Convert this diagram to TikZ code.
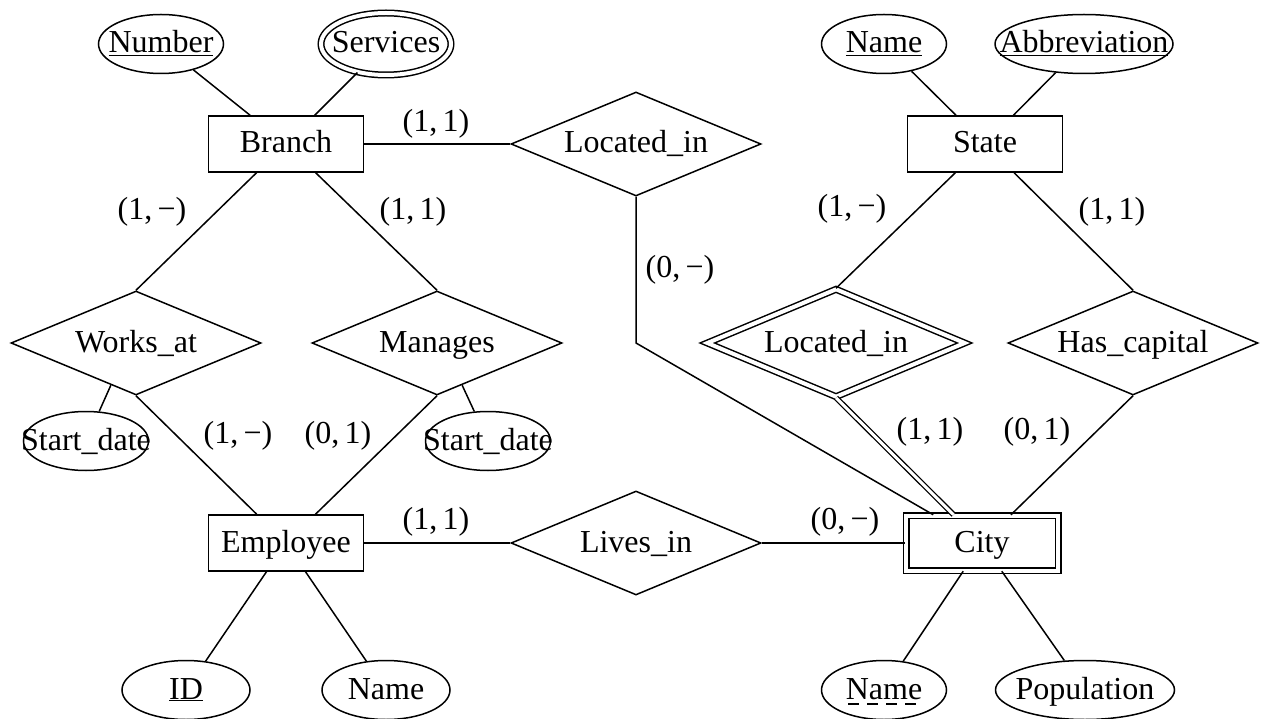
\documentclass[tikz,border=0pt]{standalone}
\usepackage{fontspec}
\setmainfont{Liberation Serif}
\usetikzlibrary{shapes.geometric,calc}
\tikzset{
  base/.style={line width=1.5pt},
  ent/.style={base, draw, rectangle, minimum width=155pt, minimum height=56pt, inner sep=0pt},
  went/.style={base, draw, rectangle, double, double distance=4pt, minimum width=152pt, minimum height=55pt, inner sep=0pt},
  rel/.style={base, draw, diamond, minimum width=250pt, minimum height=104pt, inner sep=0pt},
  wrel/.style={base, draw, diamond, double, double distance=4pt, minimum width=258pt, minimum height=108pt, inner sep=0pt},
  attr/.style={base, draw, ellipse, minimum width=125pt, minimum height=59pt, inner sep=0pt},
  card/.style={inner sep=0pt},
  conn/.style={base},
}
\newcommand{\zt}[1]{\makebox[0pt][c]{\rule[-9pt]{0pt}{36pt}#1}}
\begin{document}
\begin{tikzpicture}[x=1pt,y=-1pt,font=\fontsize{32}{38}\selectfont]
\useasboundingbox (0,0) rectangle (1266,719);
% entities
\node[ent] (branch) at (286,144) {\zt{Branch}};
\node[ent] (state) at (985,144) {\zt{State}};
\node[ent] (emp) at (286,543) {\zt{Employee}};
\node[went] (city) at (982,543) {\zt{City}};
% relationships
\node[rel] (loc) at (636,144) {\zt{Located\_in}};
\node[rel] (works) at (136,343) {\zt{Works\_at}};
\node[rel] (man) at (437,343) {\zt{Manages}};
\node[wrel] (locd) at (836,343) {\zt{Located\_in}};
\node[rel] (cap) at (1133,343) {\zt{Has\_capital}};
\node[rel] (lives) at (636,543) {\zt{Lives\_in}};
% attributes
\node[attr] (num) at (161,44) {\zt{\underline{Number}}};
\node[attr, double, double distance=4pt, minimum width=130pt, minimum height=62pt] (serv) at (386,44) {\zt{Services}};
\node[attr] (sname) at (884,44) {\zt{\underline{Name}}};
\node[attr, minimum width=178pt] (abbr) at (1084,44) {\zt{\underline{Abbreviation}}};
\node[attr] (sd1) at (86,441) {\zt{Start\_date}};
\node[attr] (sd2) at (488,441) {\zt{Start\_date}};
\node[attr, minimum width=128pt] (id) at (186,690) {\zt{\underline{ID}}};
\node[attr, minimum width=128pt] (ename) at (386,690) {\zt{Name}};
\node[attr] (cname) at (884,690) {\zt{Name}};
\node[attr, minimum width=179pt] (pop) at (1085,690) {\zt{Population}};
\draw[base, dash pattern=on 11pt off 8pt] ([xshift=-36pt,yshift=-5pt]cname.base) -- ([xshift=36pt,yshift=-5pt]cname.base);
% connectors
\coordinate (bend) at (636,343);
\draw[conn] (num) -- (branch);
\draw[conn] (serv) -- (branch);
\draw[conn] (sname) -- (state);
\draw[conn] (abbr) -- (state);
\draw[conn] (branch) -- (loc.west);
\draw[conn] (loc.south) -- (bend) -- (city);
\draw[conn] (branch) -- (works.north);
\draw[conn] (branch) -- (man.north);
\draw[conn] (works.south) -- (emp);
\draw[conn] (man.south) -- (emp);
\draw[conn] ($(works.south)!0.2!(works.west)$) -- (sd1);
\draw[conn] ($(man.south)!0.2!(man.east)$) -- (sd2);
\draw[conn] (state) -- (locd.north);
\draw[conn] (state) -- (cap.north);
\draw[conn, double, double distance=3pt, line width=1.3pt] (locd.south) -- (city);
\draw[conn] (cap.south) -- (city);
\draw[conn] (emp) -- (lives.west);
\draw[conn] (lives.east) -- (city);
\draw[conn] (emp) -- (id);
\draw[conn] (emp) -- (ename);
\draw[conn] (city) -- (cname);
\draw[conn] (city) -- (pop);
% cardinalities
\node[card] (c1) at (436,124) {(1,\,1)};
\node[card] (c2) at (680,270) {(0,\,−)};
\node[card] (c3) at (152,212) {(1,\,−)};
\node[card] (c4) at (413,212) {(1,\,1)};
\node[card] (c5) at (238,436) {(1,\,−)};
\node[card] (c6) at (338,436) {(0,\,1)};
\node[card] (c7) at (852,209) {(1,\,−)};
\node[card] (c8) at (1112,212) {(1,\,1)};
\node[card] (c9) at (930,432) {(1,\,1)};
\node[card] (c10) at (1037,432) {(0,\,1)};
\node[card] (c11) at (436,522) {(1,\,1)};
\node[card] (c12) at (845,522) {(0,\,−)};
\end{tikzpicture}
\end{document}
